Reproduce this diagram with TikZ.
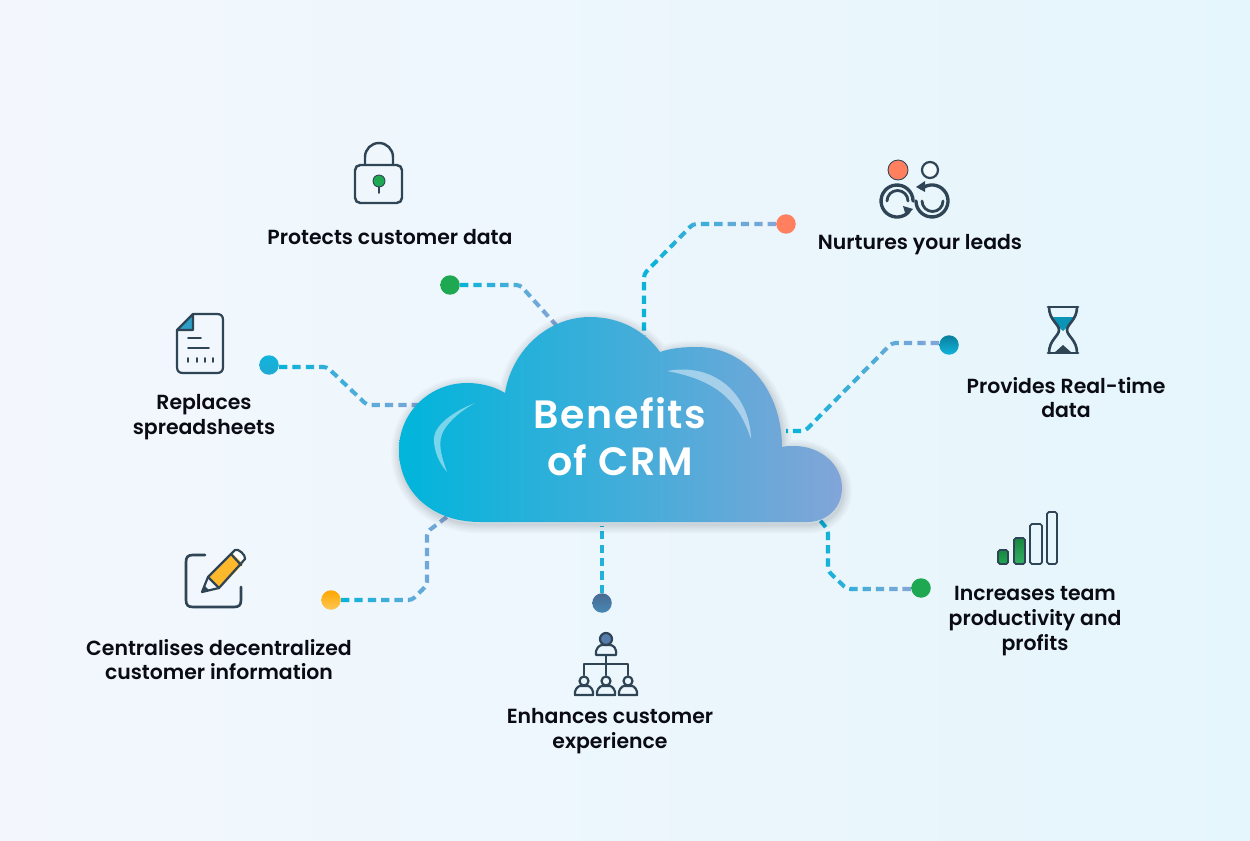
\documentclass[tikz,border=0pt]{standalone}
\usepackage{fontspec}
\setmainfont{Poppins}[BoldFont={Poppins SemiBold}]
\usetikzlibrary{calc}
\definecolor{ink}{HTML}{2F4555}
\definecolor{dashA}{HTML}{0CB3D9}
\definecolor{dashB}{HTML}{7FA6D8}
\definecolor{cgreen}{HTML}{1DA851}
\definecolor{corange}{HTML}{FF7F5F}
\definecolor{cteal}{HTML}{0A95B8}
\definecolor{cyellow}{HTML}{FDB92B}
\definecolor{cblue}{HTML}{12B4DC}
\definecolor{cslate}{HTML}{557DAB}
\definecolor{bgA}{HTML}{F3F7FD}
\definecolor{bgB}{HTML}{E5F6FC}
\definecolor{cloudA}{HTML}{00B5DB}
\definecolor{cloudM}{HTML}{32ADD8}
\definecolor{cloudB}{HTML}{82A5D8}
\definecolor{txt}{HTML}{0B0B14}
\tikzset{
 x=0.02cm,y=-0.02cm,
 link/.style={line width=2.3pt,dash pattern=on 4.7pt off 2.9pt,rounded corners=2pt},
 dotnode/.style 2 args={circle,inner sep=0pt,minimum size=0.39cm,top color=#1,bottom color=#2},
 lbl/.style={align=center,inner sep=0pt,font=\fontsize{11.63}{14.1}\selectfont\bfseries,text=txt},
 icon/.style={draw=ink,line width=1.25pt,line join=round,line cap=round},
 cloudtext/.style={inner sep=0pt,font=\fontsize{22.5}{26.7}\selectfont\bfseries\addfontfeatures{LetterSpace=3.7},text=white,align=center},
}
% a dashed route whose colour runs from dashA (x = #1) to dashB (x = #2), cut into 8 slices
\newcommand{\gradlink}[3]{%
  \pgfmathsetmacro{\gstep}{(#2-#1)/8}%
  \foreach \gi in {0,...,7}{%
    \pgfmathsetmacro{\gmix}{100-\gi*100/7}%
    \begin{scope}
      \clip ({#1+\gi*\gstep-0.3},0) rectangle ({#1+(\gi+1)*\gstep+0.3},841);
      \draw[link,color=dashA!\gmix!dashB] #3;
    \end{scope}
  }%
}
\def\cloudpath{(480,522) .. controls (430,522) and (399,490) .. (399,450)
 .. controls (399,412) and (430,383) .. (467,383)
 .. controls (482,383) and (495,387) .. (505,393)
 .. controls (512,350) and (548,317) .. (590,317)
 .. controls (620,317) and (645,331) .. (660,352)
 .. controls (671,348) and (684,347) .. (697,347)
 .. controls (745,347) and (782,390) .. (782,447)
 .. controls (785,446) and (790,446) .. (794,446)
 .. controls (821,446) and (842,465) .. (842,488)
 .. controls (842,508) and (827,522) .. (807,522) -- cycle}
\begin{document}
\begin{tikzpicture}
\useasboundingbox (0,0) rectangle (1250,841);
\shade[shading angle=60,left color=bgA,right color=bgB] (0,0) rectangle (1250,841);
% connector ends
\node[dotnode={cgreen}{cgreen}] (dProtect) at (450,285) {};
\node[dotnode={corange}{corange}] (dNurture) at (786,224) {};
\node[dotnode={black!15!cteal}{cblue}] (dReal) at (949,345) {};
\node[dotnode={cgreen}{cgreen}] (dTeam) at (921,588) {};
\node[dotnode={cslate!85!black}{cslate!80!cblue}] (dExp) at (602,603) {};
\node[dotnode={orange!70!yellow}{cyellow!80!white}] (dCentral) at (331,600) {};
\node[dotnode={cblue}{cblue!80!cslate}] (dSheet) at (269,365) {};
\coordinate (cProtect) at (556,325);
\coordinate (cNurture) at (644,336);
\coordinate (cReal) at (786,431);
\coordinate (cTeam) at (819,519);
\coordinate (cExp) at (602,526);
\coordinate (cCentral) at (448,516);
\coordinate (cSheet) at (424,405);
\coordinate (kSheet) at (327,367);
\coordinate (kReal) at (892,343);
\coordinate (kTeam) at (847,589);
% connectors
\gradlink{458}{558}{(dProtect.east) -- (520,285) -- (cProtect)}
\gradlink{640}{778}{(dNurture.west) -- (693,224) -- (644,274) -- (cNurture)}
\gradlink{784}{942}{(dReal.west |- kReal) -- (kReal) -- (805,431) -- (cReal)}
\gradlink{815}{915}{(dTeam.west |- kTeam) -- (kTeam) -- (828,571) -- (828,530) -- (cTeam)}
\draw[link,color=dashA!80!dashB] (dExp.north) -- (cExp);
\gradlink{338}{452}{(dCentral.east) -- (412,600) -- (427,585) -- (427,532) -- (cCentral)}
\gradlink{276}{426}{(dSheet.east |- kSheet) -- (kSheet) -- (367,405) -- (cSheet)}
% cloud shadow
\foreach \w in {10,8,6,4,2.5,1}{
  \draw[black,opacity=0.025,line width=\w pt,line join=round,yshift=-0.05cm,xshift=0.02cm] \cloudpath;
}
\shade[left color=cloudA,middle color=cloudM,right color=cloudB] \cloudpath;
% highlights
\fill[white,opacity=0.45] (475,403) .. controls (445,415) and (432,430) .. (434,442) .. controls (435,455) and (441,465) .. (447,472) .. controls (441,455) and (437,442) .. (444,430) .. controls (450,420) and (462,410) .. (475,403) -- cycle;
\fill[white,opacity=0.45] (667,371) .. controls (715,362) and (750,395) .. (751,439) .. controls (738,400) and (716,380) .. (667,371) -- cycle;
\node[cloudtext] (title) at (620,437) {Benefits\\of CRM};
% labels
\node[lbl] (tProtect) at (390,237) {Protects customer data};
\node[lbl] (tNurture) at (920,245) {Nurtures your leads};
\node[lbl] (tReal) at (1066,397.5) {Provides Real-time\\data};
\node[lbl] (tSheet) at (204,417) {Replaces\\spreadsheets};
\node[lbl] (tCentral) at (219,659.5) {Centralises decentralized\\customer information};
\node[lbl] (tExp) at (610,731.5) {Enhances customer\\experience};
\node[lbl] (tTeam) at (1035,621) {Increases team\\productivity and\\profits};
% lock
\draw[icon,line width=1.4pt,rounded corners=3pt] (355,165) rectangle (402,203);
\draw[icon,line width=1.4pt] (365,165) -- (365,157) arc (180:360:14) -- (393,165);
\fill[cgreen,draw=ink,line width=.5pt] (379,181) circle (6);
\draw[icon,line width=1pt] (379,187) -- (379,193);
% nurture
\fill[corange,draw=ink,line width=.5pt] (898,170) circle (10);
\draw[icon,fill=white!50!bgB] (930,170) circle (8);
\draw[icon,line width=1.9pt] (909.3,211.3) arc (40:360:16);
\draw[icon,line width=1.9pt] (921.7,188.7) arc (230:540:16);
\draw[icon,line width=1.6pt] (887,201) arc (180:360:10.5);
\draw[icon,line width=1.6pt] (922,201) arc (180:0:10.5);
\fill[ink] (913,209) -- (903,206) -- (906,216) -- cycle;
\fill[ink] (916,187) -- (925,181) -- (925,192) -- cycle;
% hourglass
\fill[cteal] (1053,317) -- (1073,317) .. controls (1072,323) and (1067,327) .. (1063,331) .. controls (1059,327) and (1054,323) .. (1053,317) -- cycle;
\fill[ink] (1063,345) -- (1072,353) -- (1054,353) -- cycle;
\draw[icon,line width=1.6pt] (1048,307) -- (1078,307);
\draw[icon,line width=1.6pt] (1048,353) -- (1078,353);
\draw[icon,line width=1.5pt] (1049,307) .. controls (1049,320) and (1059,324) .. (1059,330) .. controls (1059,336) and (1049,340) .. (1049,353);
\draw[icon,line width=1.5pt] (1077,307) .. controls (1077,320) and (1067,324) .. (1067,330) .. controls (1067,336) and (1077,340) .. (1077,353);
% document
\fill[cblue!60!cslate] (193,314) -- (193,330) -- (177,330) -- cycle;
\draw[icon] (193,314) -- (177,330) -- (177,367) .. controls (177,371) and (179,373) .. (183,373) -- (217,373) .. controls (221,373) and (223,371) .. (223,367) -- (223,320) .. controls (223,316) and (221,314) .. (217,314) -- (193,314) -- (193,330) -- (177,330);
\draw[icon,line width=1pt] (188,338) -- (201,338) (188,348) -- (209,348);
\draw[icon,line width=1pt] (188,358) -- (188,362) (197,358) -- (197,362) (205,358) -- (205,362) (213,358) -- (213,362);
% pencil
\draw[icon,line width=1.5pt] (205,555) -- (193,555) .. controls (188,555) and (186,557) .. (186,562) -- (186,600) .. controls (186,605) and (188,607) .. (193,607) -- (234,607) .. controls (239,607) and (241,605) .. (241,600) -- (241,587);
\fill[cyellow] (208,577) -- (232,553) -- (243,564) -- (220,588) -- cycle;
\fill[white] (232,553) -- (236,550) .. controls (240,549) and (245,555) .. (245,558) -- (243,563) -- cycle;
\draw[icon] (202,592) -- (208,577) -- (235,550) .. controls (238,548) and (246,555) .. (245,559) -- (219,588) -- cycle;
\draw[icon] (208,577) -- (219,588);
\draw[icon] (231,554) -- (241,565);
\fill[ink] (202,592) -- (204,585) -- (209,590) -- cycle;
% hierarchy
\draw[icon,fill=cslate] (606,639) circle (6);
\draw[icon] (596,655) .. controls (595,648) and (600,645) .. (602,645) -- (610,645) .. controls (613,645) and (617,648) .. (616,655) -- cycle;
\draw[icon] (606,655) -- (606,675) (584,675) -- (584,664) -- (628,664) -- (628,675);
\foreach \px in {584,606,628}{
  \draw[icon] (\px,681) circle (4.5);
  \draw[icon] (\px-9,695) .. controls (\px-10,690) and (\px-6,686) .. (\px-4,686) -- (\px+4,686) .. controls (\px+6,686) and (\px+10,690) .. (\px+9,695) -- cycle;
}
% bars
\shade[top color=cgreen!80!black,bottom color=cgreen,draw=ink,line width=1pt,rounded corners=1pt] (998,550) rectangle (1008,564);
\shade[top color=cgreen!80!black,bottom color=cgreen!90!white,draw=ink,line width=1pt,rounded corners=1pt] (1014,538) rectangle (1025,564);
\draw[icon,line width=1pt,rounded corners=1pt] (1030,524) rectangle (1042,564);
\draw[icon,line width=1pt,rounded corners=1pt] (1047,512) rectangle (1057,564);
\end{tikzpicture}
\end{document}
